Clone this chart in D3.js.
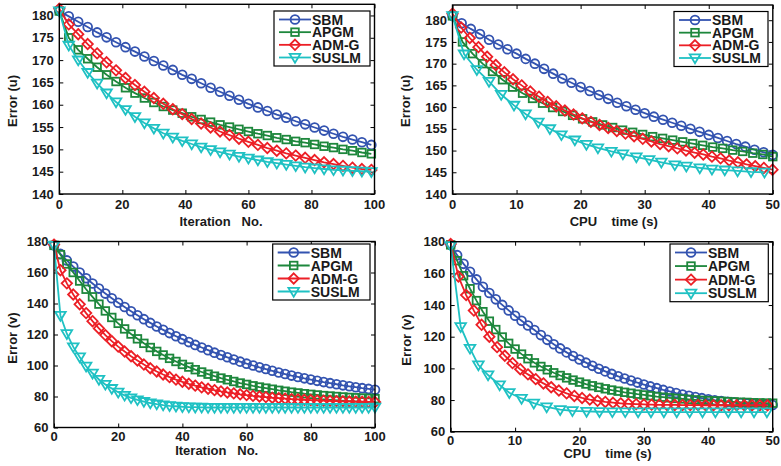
<!DOCTYPE html>
<html><head><meta charset="utf-8">
<script src="https://cdn.jsdelivr.net/npm/d3@7"></script>
<style>
html,body{margin:0;padding:0;background:#fff;}
svg{display:block;}
text{font-family:"Liberation Sans",Arial,Helvetica,sans-serif;font-weight:bold;font-size:13px;fill:#1a1a1a;white-space:pre;}
text.leg{font-size:14px;}
</style>
</head><body>
<svg id="chart" width="781" height="466"></svg>
<script>
// ---------- data ----------
const seriesNames = ['SBM', 'APGM', 'ADM-G', 'SUSLM'];

// Panel 1: Error (u) vs Iteration No.
const p1Iter = [0,3,6,9,12,15,18,21,24,27,30,33,36,39,42,45,48,51,54,57,60,63,66,69,72,75,78,81,84,87,90,93,96,99];
const p1SBM = [181.0,179.8,178.6,177.4,176.2,175.1,174.0,172.9,171.9,170.8,169.8,168.8,167.8,166.7,165.8,164.8,163.8,162.9,162.0,161.1,160.2,159.4,158.6,157.8,157.1,156.3,155.6,154.9,154.2,153.5,152.8,152.2,151.6,151.0];
const p1APGM = [181.0,175.0,172.3,170.3,168.4,166.7,165.2,163.8,162.6,161.5,160.5,159.6,158.8,158.1,157.3,156.7,156.1,155.5,155.0,154.5,154.0,153.5,153.1,152.6,152.2,151.8,151.5,151.1,150.7,150.4,150.0,149.7,149.3,149.0];
const p1ADMG = [181.5,178.0,175.8,173.6,171.5,169.5,167.7,166.0,164.4,162.9,161.5,160.2,159.0,157.9,156.8,155.8,154.9,154.0,153.2,152.4,151.7,151.0,150.3,149.7,149.1,148.6,148.1,147.6,147.1,146.7,146.3,145.9,145.6,145.4];
const p1SUSLM = [181.0,173.3,170.0,167.2,164.8,162.6,160.6,158.9,157.3,155.9,154.7,153.6,152.7,151.9,151.2,150.5,149.9,149.4,148.9,148.4,148.0,147.6,147.2,146.9,146.6,146.3,146.0,145.8,145.6,145.4,145.3,145.2,145.1,145.0];

// Panel 2: Error (u) vs CPU time (s)
const p2TimeSBM = [0,1.43,2.86,4.29,5.71,7.14,8.57,10,11.43,12.86,14.29,15.71,17.14,18.57,20,21.43,22.86,24.29,25.71,27.14,28.57,30,31.43,32.86,34.29,35.71,37.14,38.57,40,41.43,42.86,44.29,45.71,47.14,48.57,50];
const p2SBM = [181.0,179.3,178.0,176.8,175.5,174.4,173.3,172.3,171.1,170.0,168.8,167.7,166.6,165.6,164.6,163.7,162.8,161.9,161.0,160.2,159.4,158.6,157.8,157.1,156.4,155.7,155.0,154.3,153.6,152.9,152.2,151.5,150.9,150.2,149.6,149.0];
const p2TimeAPGM = [0,1.56,3.13,4.69,6.25,7.81,9.38,10.94,12.5,14.06,15.63,17.19,18.75,20.31,21.88,23.44,25,26.56,28.13,29.69,31.25,32.81,34.38,35.94,37.5,39.06,40.63,42.19,43.75,45.31,46.88,48.44,50];
const p2APGM = [181.0,175.0,172.3,170.0,168.2,166.3,164.6,163.2,162.0,160.9,159.9,159.0,158.1,157.3,156.6,155.9,155.3,154.7,154.2,153.7,153.2,152.8,152.4,152.0,151.6,151.2,150.8,150.5,150.1,149.8,149.4,149.1,148.6];
const p2TimeADMG = [0,1.35,2.7,4.05,5.4,6.75,8.1,9.45,10.8,12.15,13.5,14.85,16.2,17.55,18.9,20.25,21.6,22.95,24.3,25.65,27,28.35,29.7,31.05,32.4,33.75,35.1,36.45,37.8,39.15,40.5,41.85,43.2,44.55,45.9,47.25,48.6,49.95];
const p2ADMG = [181.5,178.3,175.9,173.8,171.6,169.7,168.0,166.4,165.0,163.6,162.4,161.2,160.2,159.2,158.3,157.4,156.6,155.9,155.2,154.5,153.9,153.3,152.7,152.1,151.5,151.0,150.5,150.0,149.5,149.1,148.6,148.2,147.7,147.3,146.8,146.4,146.0,145.6];
const p2TimeSUSLM = [0,1.8,3.8,5.7,7.6,9.6,11.4,13.4,15.2,17.0,19.1,20.9,22.7,24.8,26.6,28.7,30.7,32.6,34.7,36.5,38.6,40.5,42.5,44.5,46.6,48.7];
const p2SUSLM = [181.0,172.2,168.6,165.9,162.9,160.4,158.4,156.5,155.0,153.6,152.4,151.4,150.6,149.8,149.2,148.5,147.9,147.3,146.7,146.4,146.0,145.7,145.5,145.3,145.1,145.0];

// Panel 3: Error (v) vs Iteration No.
const p3Iter = [0,2,4,6,8,10,12,14,16,18,20,22,24,26,28,30,32,34,36,38,40,42,44,46,48,50,52,54,56,58,60,62,64,66,68,70,72,74,76,78,80,82,84,86,88,90,92,94,96,98,100];
const p3SBM = [177.5,172.0,167.8,163.8,160.0,156.3,152.9,149.6,146.4,143.4,140.5,137.7,135.0,132.4,129.9,127.5,125.2,123.0,120.9,118.9,117.0,115.1,113.3,111.6,109.9,108.3,106.8,105.3,103.9,102.5,101.2,100.0,98.8,97.7,96.6,95.5,94.5,93.5,92.6,91.7,90.9,90.1,89.3,88.6,87.9,87.2,86.6,86.0,85.4,84.9,84.4];
const p3APGM = [177.5,171.5,165.5,160.0,154.5,149.2,144.3,139.6,135.2,131.0,127.2,123.6,120.3,117.2,114.3,111.6,109.1,106.8,104.6,102.6,100.7,99.0,97.3,95.8,94.4,93.1,91.9,90.8,89.7,88.7,87.8,86.9,86.1,85.4,84.7,84.0,83.4,82.8,82.3,81.8,81.4,81.0,80.6,80.3,80.0,79.7,79.4,79.2,79.0,78.8,78.6];
const p3ADMG = [178.0,161.5,153.0,145.8,139.5,133.8,128.6,123.9,119.6,115.7,112.2,109.0,106.0,103.2,100.6,98.2,96.1,94.2,92.5,90.9,89.5,88.2,87.0,85.9,85.0,84.1,83.3,82.6,82.0,81.4,80.9,80.4,80.0,79.6,79.2,78.9,78.6,78.3,78.1,77.9,77.7,77.5,77.3,77.2,77.0,76.9,76.8,76.7,76.6,76.5,76.4];
const p3SUSLM = [177.5,132.3,120.5,112.0,105.5,99.5,95.0,91.0,87.8,85.1,82.7,80.7,79.1,77.8,76.7,75.8,75.1,74.5,74.0,73.7,73.4,73.2,73.1,73.0,72.9,72.9,72.9,72.9,72.9,72.9,72.9,72.9,72.9,72.9,72.9,72.9,72.9,72.9,72.9,72.9,72.9,72.9,72.9,72.9,72.9,72.9,72.9,72.9,72.9,72.9,73.0];

// Panel 4: Error (v) vs CPU time (s)
const p4Time = [0,1,2,3,4,5,6,7,8,9,10,11,12,13,14,15,16,17,18,19,20,21,22,23,24,25,26,27,28,29,30,31,32,33,34,35,36,37,38,39,40,41,42,43,44,45,46,47,48,49,50];
const p4SBM = [178.0,171.5,166.0,161.0,156.2,151.5,147.6,143.6,140.1,136.6,133.2,130.1,127.1,124.2,121.0,118.0,115.2,112.6,110.1,107.8,105.6,103.6,101.6,99.8,98.1,96.5,95.0,93.6,92.3,91.0,89.8,88.6,87.5,86.4,85.4,84.4,83.5,82.7,81.9,81.2,80.5,79.9,79.4,78.9,78.5,78.1,77.8,77.5,77.3,77.1,76.9];
const p4APGM = [178.0,168.0,158.5,150.3,142.8,135.8,129.8,124.5,119.8,115.8,112.2,109.0,106.1,103.5,101.2,99.1,97.2,95.5,94.0,92.6,91.3,90.1,89.0,88.0,87.1,86.3,85.6,84.9,84.3,83.7,83.2,82.7,82.2,81.8,81.4,81.0,80.7,80.4,80.1,79.8,79.6,79.4,79.2,79.0,78.8,78.6,78.5,78.3,78.2,78.1,78.0];
const p4TimeADMG = [0,1.2,2.4,3.6,4.8,6,7.2,8.4,9.6,10.8,12,13.2,14.4,15.6,16.8,18,19.2,20.4,21.6,22.8,24,25.2,26.4,27.6,28.8,30,31.2,32.4,33.6,34.8,36,37.2,38.4,39.6,40.8,42,43.2,44.4,45.6,46.8,48,49.2];
const p4ADMG = [178.5,158.0,146.3,136.5,127.5,120.0,113.4,108.0,103.3,99.5,96.2,93.2,90.5,88.1,86.0,84.2,82.6,81.3,80.3,79.5,78.8,78.3,77.9,77.6,77.4,77.2,77.1,77.0,76.9,76.9,76.8,76.8,76.8,76.7,76.7,76.7,76.7,76.7,76.7,76.7,76.7,76.7];
const p4TimeSUSLM = [0,1.55,3.0,4.3,5.8,7.6,9.1,11.0,12.9,14.9,17.0,18.9,21.1,23.1,25.1,27.1,29.1,31.1,33.1,35.1,37.1,39.1,41.1,43.1,45.1,47.1,49.1];
const p4SUSLM = [177.5,126.3,112.6,102.1,95.8,89.5,84.6,81.0,78.0,75.6,73.9,73.2,72.8,72.6,72.5,72.5,72.4,72.4,72.4,72.4,72.4,72.4,72.4,72.4,72.4,72.4,72.4];

// tick labels
const iterTicks = [0,20,40,60,80,100];
const timeTicks = [0,10,20,30,40,50];
const uTicks = [140,145,150,155,160,165,170,175,180];
const vTicks = [60,80,100,120,140,160,180];

// ---------- styles ----------
const seriesColors = ['#3353b0', '#1d873c', '#ec1f26', '#1fc1c3'];
const seriesMarkers = ['circle', 'square', 'diamond', 'triangle'];

const panels = [
  { box:{l:59.3, r:374.5, t:4.3, b:194}, xDomain:[0,100], yDomain:[140,182.5], xTicks:iterTicks, yTicks:uTicks,
    xLabel:'Iteration   No.', yLabel:'Error (u)', xLab:{x:221, y:226}, yLab:{x:12.7, y:101}, tickBase:209,
    legend:{x:274, y:11, w:96, h:55},
    series:[{x:p1Iter, y:p1SBM},{x:p1Iter, y:p1APGM},{x:p1Iter, y:p1ADMG},{x:p1Iter, y:p1SUSLM}] },
  { box:{l:452.5, r:772.8, t:5, b:194}, xDomain:[0,50], yDomain:[140,183.5], xTicks:timeTicks, yTicks:uTicks,
    xLabel:'CPU    time (s)', yLabel:'Error (u)', xLab:{x:613.7, y:226}, yLab:{x:405, y:101}, tickBase:209,
    legend:{x:674, y:11.5, w:94, h:55},
    series:[{x:p2TimeSBM, y:p2SBM},{x:p2TimeAPGM, y:p2APGM},{x:p2TimeADMG, y:p2ADMG},{x:p2TimeSUSLM, y:p2SUSLM}] },
  { box:{l:54, r:375, t:241.5, b:427.5}, xDomain:[0,100], yDomain:[60,180], xTicks:iterTicks, yTicks:vTicks,
    xLabel:'Iteration   No.', yLabel:'Error (v)', xLab:{x:216.7, y:455}, yLab:{x:12.7, y:338}, tickBase:440.5,
    legend:{x:272.7, y:244, w:97.3, h:56},
    series:[{x:p3Iter, y:p3SBM},{x:p3Iter, y:p3APGM},{x:p3Iter, y:p3ADMG},{x:p3Iter, y:p3SUSLM}] },
  { box:{l:450.7, r:772.7, t:241.7, b:431.7}, xDomain:[0,50], yDomain:[60,180], xTicks:timeTicks, yTicks:vTicks,
    xLabel:'CPU    time (s)', yLabel:'Error (v)', xLab:{x:607.5, y:457.5}, yLab:{x:406.7, y:340}, tickBase:444.5,
    legend:{x:670, y:244, w:98.3, h:57.7},
    series:[{x:p4Time, y:p4SBM},{x:p4Time, y:p4APGM},{x:p4TimeADMG, y:p4ADMG},{x:p4TimeSUSLM, y:p4SUSLM}] }
];

const svg = d3.select('#chart');
const LW = 1.8;

function drawMarker(g, type, color, cx, cy) {
  if (type === 'circle') {
    g.append('circle').attr('cx', cx).attr('cy', cy).attr('r', 4.4)
      .attr('fill', 'none').attr('stroke', color).attr('stroke-width', LW);
  } else if (type === 'square') {
    g.append('rect').attr('x', cx - 3.8).attr('y', cy - 3.8).attr('width', 7.6).attr('height', 7.6)
      .attr('fill', 'none').attr('stroke', color).attr('stroke-width', LW);
  } else if (type === 'diamond') {
    g.append('path').attr('d', `M${cx},${cy-5.2}L${cx+5.2},${cy}L${cx},${cy+5.2}L${cx-5.2},${cy}Z`)
      .attr('fill', 'none').attr('stroke', color).attr('stroke-width', LW);
  } else {
    g.append('path').attr('d', `M${cx-5.3},${cy-3.6}L${cx+5.3},${cy-3.6}L${cx},${cy+5.2}Z`)
      .attr('fill', 'none').attr('stroke', color).attr('stroke-width', LW);
  }
}

panels.forEach(p => {
  const {l, r, t, b} = p.box;
  const x = d3.scaleLinear().domain(p.xDomain).range([l, r]);
  const y = d3.scaleLinear().domain(p.yDomain).range([b, t]);
  const g = svg.append('g');

  // ticks on all four sides (inward), via d3 axes
  const tl = 4;
  g.append('g').attr('transform', `translate(0,${b})`)
    .call(d3.axisBottom(x).tickValues(p.xTicks).tickSize(-tl).tickFormat(''))
    .call(s => s.select('.domain').remove());
  g.append('g').attr('transform', `translate(0,${t})`)
    .call(d3.axisTop(x).tickValues(p.xTicks).tickSize(-tl).tickFormat(''))
    .call(s => s.select('.domain').remove());
  g.append('g').attr('transform', `translate(${l},0)`)
    .call(d3.axisLeft(y).tickValues(p.yTicks).tickSize(-tl).tickFormat(''))
    .call(s => s.select('.domain').remove());
  g.append('g').attr('transform', `translate(${r},0)`)
    .call(d3.axisRight(y).tickValues(p.yTicks).tickSize(-tl).tickFormat(''))
    .call(s => s.select('.domain').remove());
  g.selectAll('.tick line').attr('stroke', '#000').attr('stroke-width', 1);

  // tick labels
  g.selectAll(null).data(p.xTicks).enter().append('text')
    .attr('x', d => x(d)).attr('y', p.tickBase).attr('text-anchor', 'middle').text(d => d);
  g.selectAll(null).data(p.yTicks).enter().append('text')
    .attr('x', l - 5.5).attr('y', d => y(d) + 4.6).attr('text-anchor', 'end').text(d => d);

  // series
  p.series.forEach((s, i) => {
    const color = seriesColors[i];
    const pts = s.x.map((xv, k) => [x(xv), y(s.y[k])]);
    g.append('path').attr('d', d3.line()(pts)).attr('fill', 'none')
      .attr('stroke', color).attr('stroke-width', LW);
    const mg = g.append('g');
    pts.forEach(pt => drawMarker(mg, seriesMarkers[i], color, pt[0], pt[1]));
  });

  // frame
  g.append('rect').attr('x', l).attr('y', t).attr('width', r - l).attr('height', b - t)
    .attr('fill', 'none').attr('stroke', '#000').attr('stroke-width', 1.4);

  // axis labels
  g.append('text').attr('x', p.xLab.x).attr('y', p.xLab.y).attr('text-anchor', 'middle').text(p.xLabel);
  g.append('text').attr('transform', `translate(${p.yLab.x + 4.5},${p.yLab.y}) rotate(-90)`)
    .attr('text-anchor', 'middle').text(p.yLabel);

  // legend
  const L = p.legend;
  const lg = g.append('g');
  lg.append('rect').attr('x', L.x).attr('y', L.y).attr('width', L.w).attr('height', L.h)
    .attr('fill', '#fff').attr('stroke', '#000').attr('stroke-width', 1.2);
  const step = (L.h - 17) / 3;
  seriesNames.forEach((name, i) => {
    const cy = L.y + 8.5 + i * step;
    lg.append('line').attr('x1', L.x + 5).attr('x2', L.x + 37).attr('y1', cy).attr('y2', cy)
      .attr('stroke', seriesColors[i]).attr('stroke-width', LW);
    drawMarker(lg, seriesMarkers[i], seriesColors[i], L.x + 21, cy);
    lg.append('text').attr('class', 'leg').attr('x', L.x + 38).attr('y', cy + 5).text(name);
  });
});
</script>
</body></html>
